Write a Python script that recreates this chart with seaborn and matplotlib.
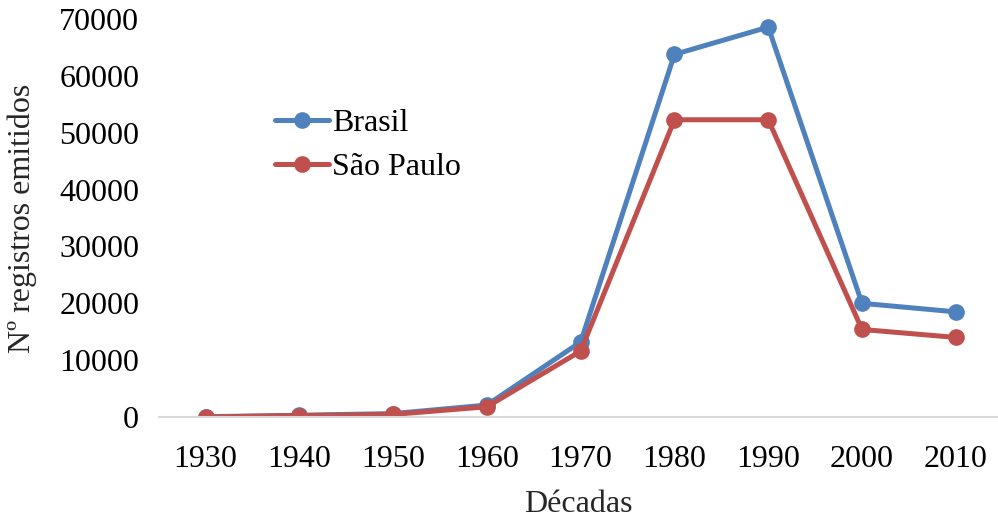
import matplotlib
matplotlib.use("Agg")
import matplotlib.pyplot as plt
import numpy as np
import pandas as pd
import seaborn as sns

# dados
decadas = ["1930", "1940", "1950", "1960", "1970", "1980", "1990", "2000", "2010"]
brasil = [50, 300, 600, 2100, 13200, 63800, 68600, 20000, 18500]
sao_paulo = [0, 250, 450, 1800, 11600, 52300, 52300, 15400, 14000]

C_BRASIL = "#4F81BD"
C_SP = "#C0504D"

sns.set_theme(style="white")
plt.rcParams['font.family'] = ['Liberation Serif', 'DejaVu Serif']
plt.rcParams['text.color'] = 'black'

df = pd.DataFrame({
    "Década": decadas * 2,
    "Registros": brasil + sao_paulo,
    "Série": ["Brasil"] * len(decadas) + ["São Paulo"] * len(decadas),
})

fig = plt.figure(figsize=(9.98, 5.18), dpi=100)
ax = fig.add_axes([0.159, 0.195, 0.841, 0.768])

sns.lineplot(
    data=df, x="Década", y="Registros", hue="Série",
    palette={"Brasil": C_BRASIL, "São Paulo": C_SP},
    marker="o", markersize=12, markeredgewidth=0, linewidth=3.6,
    sort=False, ax=ax,
)

ax.set_ylim(0, 70000)
ax.set_xlim(-0.5, 8.45)
ax.set_yticks(np.arange(0, 70001, 10000))
ax.tick_params(axis="both", labelsize=23, length=0, colors="black")
ax.tick_params(axis="x", pad=20)
ax.tick_params(axis="y", pad=14)
ax.set_xlabel("Décadas", fontsize=23, labelpad=12)
ax.set_ylabel("Nº registros emitidos", fontsize=23, labelpad=16)

for s in ["top", "right", "left"]:
    ax.spines[s].set_visible(False)
ax.spines["bottom"].set_color("#D9D9D9")
ax.spines["bottom"].set_linewidth(1.5)

ax.legend(loc="upper left", bbox_to_anchor=(0.123, 0.807), frameon=False,
          fontsize=23, handlelength=1.7, handletextpad=0.1, labelspacing=0.45,
          borderaxespad=0)

fig.savefig("out.png", dpi=100)
